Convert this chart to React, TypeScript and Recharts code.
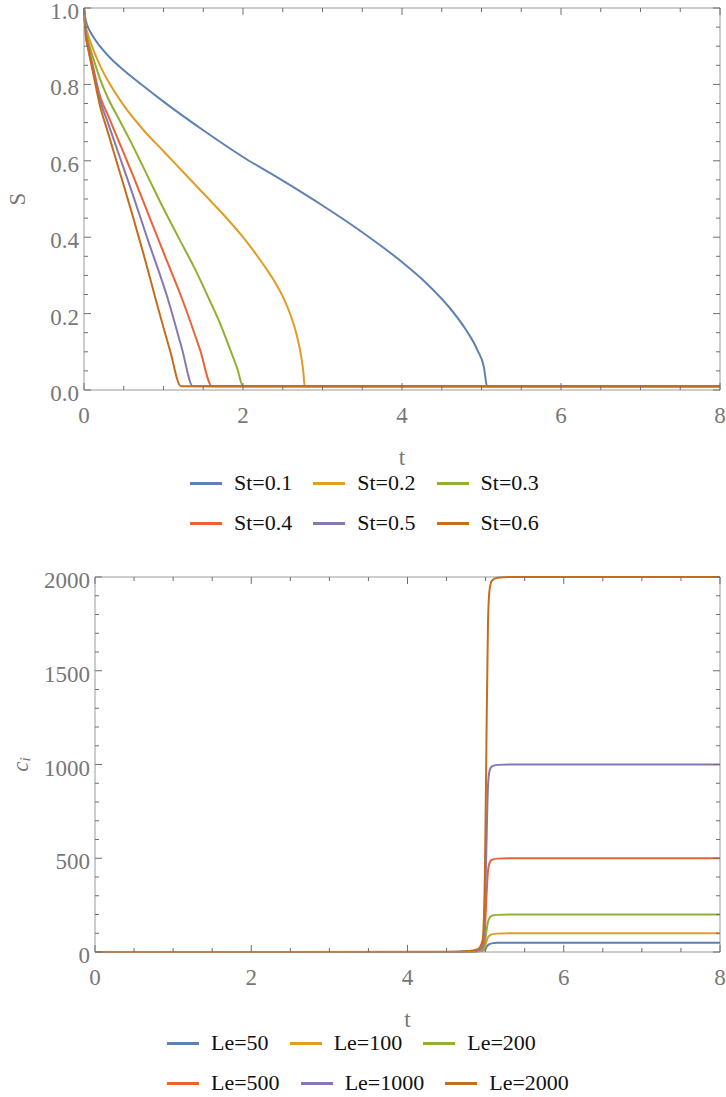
import { LineChart, Line, XAxis, YAxis, ReferenceLine } from 'recharts';

// Mathematica-style palette
const palette = ['#5e81b5', '#e19c24', '#8fb032', '#eb6235', '#8778b3', '#c56e1a'];

const serif = "'Liberation Serif', 'DejaVu Serif', 'Times New Roman', Times, 'Noto Serif', FreeSerif, serif";
const frameColor = '#9a9a9a';
const tickColor = '#6e6e6e';
const labelColor = '#777777';

// ---- top chart: S(t) for several St ----
const stNames = ['St=0.1', 'St=0.2', 'St=0.3', 'St=0.4', 'St=0.5', 'St=0.6'];

const st01T = [0, 0.02, 0.05, 0.1, 0.2, 0.35, 0.5, 0.75, 1, 1.5, 2, 2.5, 3, 3.5, 4, 4.3, 4.6, 4.8, 4.95, 5.03, 5.07, 8];
const st01S = [1, 0.97, 0.95, 0.93, 0.9, 0.865, 0.837, 0.795, 0.755, 0.68, 0.61, 0.548, 0.483, 0.413, 0.335, 0.281, 0.215, 0.159, 0.104, 0.06, 0.01, 0.01];

const st02T = [0, 0.02, 0.05, 0.1, 0.2, 0.3, 0.5, 0.75, 1, 1.25, 1.5, 1.75, 2, 2.2, 2.3, 2.4, 2.5, 2.6, 2.68, 2.73, 2.76, 2.775, 8];
const st02S = [1, 0.955, 0.93, 0.9, 0.85, 0.81, 0.745, 0.68, 0.625, 0.57, 0.515, 0.46, 0.4, 0.345, 0.315, 0.283, 0.245, 0.195, 0.14, 0.09, 0.045, 0.01, 0.01];

const st03T = [0, 0.02, 0.05, 0.1, 0.2, 0.3, 0.45, 0.6, 0.8, 1, 1.2, 1.4, 1.58, 1.72, 1.84, 1.93, 2.0, 8];
const st03S = [1, 0.945, 0.915, 0.88, 0.815, 0.765, 0.705, 0.645, 0.56, 0.475, 0.395, 0.315, 0.235, 0.17, 0.105, 0.055, 0.01, 0.01];

const st04T = [0, 0.02, 0.05, 0.1, 0.2, 0.3, 0.45, 0.6, 0.8, 1.0, 1.24, 1.46, 1.61, 8];
const st04S = [1, 0.94, 0.905, 0.86, 0.77, 0.72, 0.645, 0.57, 0.465, 0.36, 0.235, 0.105, 0.01, 0.01];

const st05T = [0, 0.02, 0.05, 0.1, 0.2, 0.3, 0.45, 0.6, 0.8, 1.06, 1.23, 1.37, 8];
const st05S = [1, 0.935, 0.9, 0.85, 0.76, 0.7, 0.61, 0.52, 0.395, 0.235, 0.11, 0.01, 0.01];

const st06T = [0, 0.02, 0.05, 0.1, 0.2, 0.3, 0.45, 0.6, 0.75, 0.905, 1.08, 1.22, 8];
const st06S = [1, 0.93, 0.895, 0.845, 0.745, 0.675, 0.57, 0.465, 0.355, 0.235, 0.105, 0.01, 0.01];

const topT = [st01T, st02T, st03T, st04T, st05T, st06T];
const topS = [st01S, st02S, st03S, st04S, st05S, st06S];

const tTicks = [0, 0.5, 1, 1.5, 2, 2.5, 3, 3.5, 4, 4.5, 5, 5.5, 6, 6.5, 7, 7.5, 8];
const sTicks = [0, 0.05, 0.1, 0.15, 0.2, 0.25, 0.3, 0.35, 0.4, 0.45, 0.5, 0.55, 0.6, 0.65, 0.7, 0.75, 0.8, 0.85, 0.9, 0.95, 1];

// ---- bottom chart: c_i(t) for several Le ----
const leNames = ['Le=50', 'Le=100', 'Le=200', 'Le=500', 'Le=1000', 'Le=2000'];

const leT = [0, 4.5, 4.8, 4.9, 4.96, 4.99, 5.01, 5.03, 5.05, 5.08, 5.15, 5.3, 8];
const le50C = [0, 0.1, 1, 3, 6, 13, 26, 36, 42, 46, 49, 50, 50];
const le100C = [0, 0.1, 1.5, 4, 9, 25, 55, 78, 88, 94, 98, 100, 100];
const le200C = [0, 0.2, 2, 5, 12, 45, 110, 160, 182, 193, 198, 200, 200];
const le500C = [0, 0.3, 3, 8, 22, 110, 290, 430, 475, 492, 498, 500, 500];
const le1000C = [0, 0.5, 4, 10, 35, 200, 560, 880, 965, 990, 998, 1000, 1000];
const le2000C = [0, 1, 6, 15, 60, 400, 1100, 1750, 1930, 1980, 1996, 2000, 2000];

const bottomC = [le50C, le100C, le200C, le500C, le1000C, le2000C];

const cTicks = [0, 100, 200, 300, 400, 500, 600, 700, 800, 900, 1000, 1100, 1200, 1300, 1400, 1500, 1600, 1700, 1800, 1900, 2000];

function toPoints(xs: number[], ys: number[]) {
  return xs.map((x, i) => ({ x, y: ys[i] }));
}

// inward frame tick on bottom axis, mirrored on the top edge
function BottomTick(props: any) {
  const { x = 0, y = 0, payload, span, isMajor, fmt } = props;
  const v = payload?.value ?? 0;
  const major = isMajor(v);
  const len = major ? 7 : 4;
  return (
    <g>
      <line x1={x} x2={x} y1={y} y2={y - len} stroke={tickColor} />
      <line x1={x} x2={x} y1={y - span} y2={y - span + len} stroke={tickColor} />
      {major && (
        <text x={x} y={y + 33} textAnchor="middle" fill={labelColor} fontSize={23} fontFamily={serif}>
          {fmt(v)}
        </text>
      )}
    </g>
  );
}

// inward frame tick on left axis, mirrored on the right edge
function LeftTick(props: any) {
  const { x = 0, y = 0, payload, span, isMajor, fmt } = props;
  const v = payload?.value ?? 0;
  const major = isMajor(v);
  const len = major ? 7 : 4;
  return (
    <g>
      <line x1={x} x2={x + len} y1={y} y2={y} stroke={tickColor} />
      <line x1={x + span} x2={x + span - len} y1={y} y2={y} stroke={tickColor} />
      {major && (
        <text x={x - 5} y={y + 11} textAnchor="end" fill={labelColor} fontSize={23} fontFamily={serif}>
          {fmt(v)}
        </text>
      )}
    </g>
  );
}

function Legend({ names, left, top }: { names: string[]; left: number; top: number }) {
  const rows = [names.slice(0, 3), names.slice(3, 6)];
  return (
    <div style={{ position: 'absolute', left, top, fontFamily: serif, fontSize: 22, color: '#111' }}>
      {rows.map((row, r) => (
        <div key={r} style={{ display: 'flex', alignItems: 'center', height: 40 }}>
          {row.map((name, i) => (
            <div key={name} style={{ display: 'flex', alignItems: 'center', marginRight: 21 }}>
              <span style={{ width: 32, height: 3, background: palette[r * 3 + i], marginRight: 12 }} />
              <span>{name}</span>
            </div>
          ))}
        </div>
      ))}
    </div>
  );
}

const isEven = (v: number) => Math.abs(v / 2 - Math.round(v / 2)) < 1e-6;

function TopChart() {
  const plotW = 636;
  const plotH = 382;
  return (
    <LineChart width={726} height={480} margin={{ top: 8, right: 6, bottom: 0, left: 0 }}>
      <XAxis
        type="number"
        dataKey="x"
        domain={[0, 8]}
        ticks={tTicks}
        interval={0}
        height={90}
        tickSize={0}
        tickMargin={0}
        tickLine={false}
        axisLine={{ stroke: frameColor }}
        tick={(p: any) => (
          <BottomTick {...p} span={plotH} isMajor={isEven} fmt={(v: number) => String(v)} />
        )}
        label={(p: any) => {
          const vb = p.viewBox;
          return (
            <text x={vb.x + vb.width / 2} y={vb.y + 75} textAnchor="middle" fill={labelColor} fontSize={23} fontFamily={serif}>
              t
            </text>
          );
        }}
      />
      <YAxis
        type="number"
        dataKey="y"
        domain={[0, 1]}
        ticks={sTicks}
        interval={0}
        width={84}
        tickSize={0}
        tickMargin={0}
        tickLine={false}
        axisLine={{ stroke: frameColor }}
        tick={(p: any) => (
          <LeftTick
            {...p}
            span={plotW}
            isMajor={(v: number) => Math.abs(v * 5 - Math.round(v * 5)) < 1e-6}
            fmt={(v: number) => v.toFixed(1)}
          />
        )}
        label={(p: any) => {
          const vb = p.viewBox;
          const cx = 17;
          const cy = vb.y + vb.height / 2;
          return (
            <text x={cx} y={cy} transform={`rotate(-90 ${cx} ${cy})`} textAnchor="middle" dominantBaseline="central" fill={labelColor} fontSize={23} fontFamily={serif}>
              S
            </text>
          );
        }}
      />
      <ReferenceLine y={1} stroke={frameColor} />
      <ReferenceLine x={8} stroke={frameColor} />
      {stNames.map((name, i) => (
        <Line
          key={name}
          name={name}
          data={toPoints(topT[i], topS[i])}
          dataKey="y"
          type="monotone"
          stroke={palette[i]}
          strokeWidth={2}
          dot={false}
          isAnimationActive={false}
        />
      ))}
    </LineChart>
  );
}

function BottomChart() {
  const plotW = 625;
  const plotH = 375;
  return (
    <LineChart width={726} height={472} margin={{ top: 17, right: 6, bottom: 0, left: 0 }}>
      <XAxis
        type="number"
        dataKey="x"
        domain={[0, 8]}
        ticks={tTicks}
        interval={0}
        height={80}
        tickSize={0}
        tickMargin={0}
        tickLine={false}
        axisLine={{ stroke: frameColor }}
        tick={(p: any) => (
          <BottomTick {...p} span={plotH} isMajor={isEven} fmt={(v: number) => String(v)} />
        )}
        label={(p: any) => {
          const vb = p.viewBox;
          return (
            <text x={vb.x + vb.width / 2} y={vb.y + 75} textAnchor="middle" fill={labelColor} fontSize={23} fontFamily={serif}>
              t
            </text>
          );
        }}
      />
      <YAxis
        type="number"
        dataKey="y"
        domain={[0, 2000]}
        ticks={cTicks}
        interval={0}
        width={95}
        tickSize={0}
        tickMargin={0}
        tickLine={false}
        axisLine={{ stroke: frameColor }}
        tick={(p: any) => (
          <LeftTick
            {...p}
            span={plotW}
            isMajor={(v: number) => v % 500 === 0}
            fmt={(v: number) => String(v)}
          />
        )}
        label={(p: any) => {
          const vb = p.viewBox;
          const cx = 20;
          const cy = vb.y + vb.height / 2;
          return (
            <text x={cx} y={cy} transform={`rotate(-90 ${cx} ${cy})`} textAnchor="middle" dominantBaseline="central" fill={labelColor} fontSize={23} fontFamily={serif}>
              <tspan fontStyle="italic">c</tspan>
              <tspan fontStyle="italic" fontSize={15} dy={5}>i</tspan>
            </text>
          );
        }}
      />
      <ReferenceLine y={2000} stroke={frameColor} />
      <ReferenceLine x={8} stroke={frameColor} />
      {leNames.map((name, i) => (
        <Line
          key={name}
          name={name}
          data={toPoints(leT, bottomC[i])}
          dataKey="y"
          type="monotone"
          stroke={palette[i]}
          strokeWidth={2}
          dot={false}
          isAnimationActive={false}
        />
      ))}
    </LineChart>
  );
}

export default function App() {
  return (
    <div style={{ position: 'absolute', left: 0, top: 0, width: 726, height: 1097, background: '#fff' }}>
      <div style={{ position: 'absolute', left: 0, top: 0 }}>
        <TopChart />
      </div>
      <Legend names={stNames} left={190} top={463} />
      <div style={{ position: 'absolute', left: 0, top: 560 }}>
        <BottomChart />
      </div>
      <Legend names={leNames} left={167} top={1023} />
    </div>
  );
}
